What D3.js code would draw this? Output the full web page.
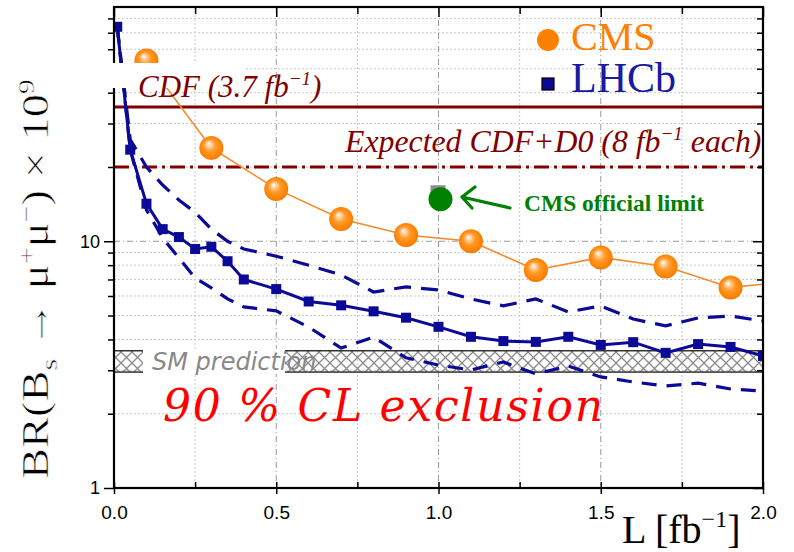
<!DOCTYPE html>
<meta charset="utf-8">
<style>
  body { margin: 0; background: #fff; }
</style>
<script src="https://d3js.org/d3.v7.min.js"></script>
<svg id="chart" width="794" height="552"></svg>
<script>
  // CMS projected 90% CL limits (x 1e9) vs luminosity
  var cmsLumi  = [0.1, 0.3, 0.5, 0.7, 0.9, 1.1, 1.3, 1.5, 1.7, 1.9, 2.1];
  var cmsLimit = [54, 23.9, 16.3, 12.3, 10.6, 10.0, 7.65, 8.6, 7.9, 6.5, 6.9];

  // CMS official point
  var cmsOffLumi = 1.0, cmsOffLimit = 14.8;

  // LHCb median and band
  var lhcbLumi   = [0.01, 0.05, 0.1, 0.15, 0.2, 0.25, 0.3, 0.35, 0.4, 0.5, 0.6, 0.7, 0.8, 0.9, 1.0, 1.1, 1.2, 1.3, 1.4, 1.5, 1.6, 1.7, 1.8, 1.9, 2.0];
  var lhcbMedian = [74, 23.5, 14.2, 11.2, 10.4, 9.3, 9.5, 8.3, 7.0, 6.4, 5.7, 5.5, 5.2, 4.9, 4.5, 4.1, 3.94, 3.91, 4.1, 3.8, 3.9, 3.53, 3.83, 3.73, 3.43];
  var lhcbUpper  = [74, 25.8, 20.0, 16.9, 14.7, 13.1, 11.2, 10.0, 9.3, 8.7, 8.0, 7.3, 6.23, 6.53, 6.35, 5.84, 5.47, 5.84, 5.17, 5.47, 4.84, 4.54, 4.89, 4.98, 4.75];
  var lhcbLower  = [74, 23.5, 13.4, 10.3, 8.56, 7.1, 6.47, 5.84, 5.42, 5.22, 4.49, 3.69, 4.09, 3.37, 3.15, 3.01, 3.24, 2.9, 3.12, 2.82, 2.69, 2.59, 2.66, 2.52, 2.47];

  // Tevatron limits and SM band
  var cdfObserved = 35;
  var cdfD0Expected = 20;
  var smBand = [2.95, 3.6];

  // ticks
  var xMajor = [0, 0.5, 1, 1.5, 2];
  var xMinor = [0.25, 0.75, 1.25, 1.75];
  var yMajor = [1, 10];
  var yMinor = [2, 3, 4, 5, 6, 7, 8, 9, 20, 30, 40, 50, 60, 70, 80];

  var svg = d3.select("#chart");
  var x = d3.scaleLinear().domain([0, 2]).range([114, 763]);
  var y = d3.scaleLog().domain([1, 89]).range([488, 7]);

  var defs = svg.append("defs");
  defs.append("clipPath").attr("id", "plot")
    .append("rect").attr("x", 114).attr("y", 7).attr("width", 649).attr("height", 481);

  var hatch = defs.append("pattern").attr("id", "hatch")
    .attr("patternUnits", "userSpaceOnUse").attr("width", 11).attr("height", 11);
  hatch.append("path").attr("d", "M0,0L11,11M11,0L0,11")
    .attr("stroke", "#8a8a8a").attr("stroke-width", 1.3);

  var ball = defs.append("radialGradient").attr("id", "ball")
    .attr("cx", 0.5).attr("cy", 0.5).attr("fx", 0.38).attr("fy", 0.32).attr("r", 0.55);
  [[0, "#ffffff"], [0.18, "#ffd3a3"], [0.45, "#ff9a2a"], [0.85, "#ff8000"], [1, "#e46e00"]]
    .forEach(function(s) { ball.append("stop").attr("offset", s[0]).attr("stop-color", s[1]); });

  // grid
  var grid = svg.append("g");
  grid.selectAll(".gxm").data(xMinor).enter().append("line")
    .attr("x1", d => x(d)).attr("x2", d => x(d)).attr("y1", 7).attr("y2", 488)
    .attr("stroke", "#c8c8c8").attr("stroke-dasharray", "2,2");
  grid.selectAll(".gym").data(yMinor).enter().append("line")
    .attr("x1", 114).attr("x2", 763).attr("y1", d => y(d)).attr("y2", d => y(d))
    .attr("stroke", "#c8c8c8").attr("stroke-dasharray", "2,2");
  grid.selectAll(".gxM").data([0.5, 1, 1.5]).enter().append("line")
    .attr("x1", d => x(d)).attr("x2", d => x(d)).attr("y1", 7).attr("y2", 488)
    .attr("stroke", "#9a9a9a").attr("stroke-dasharray", "6,3,1,3");
  grid.selectAll(".gyM").data([10]).enter().append("line")
    .attr("x1", 114).attr("x2", 763).attr("y1", d => y(d)).attr("y2", d => y(d))
    .attr("stroke", "#9a9a9a").attr("stroke-dasharray", "6,3,1,3");

  // SM band
  var band = svg.append("g");
  band.append("rect").attr("x", x(0)).attr("width", x(2) - x(0))
    .attr("y", y(smBand[1])).attr("height", y(smBand[0]) - y(smBand[1]))
    .attr("fill", "url(#hatch)").attr("stroke", "#333").attr("stroke-width", 1.5);
  // gap behind label
  band.append("rect").attr("x", 143).attr("width", 142)
    .attr("y", y(smBand[1]) - 2).attr("height", y(smBand[0]) - y(smBand[1]) + 4)
    .attr("fill", "#fff");

  var plot = svg.append("g").attr("clip-path", "url(#plot)");

  // Tevatron lines
  plot.append("line").attr("x1", 112).attr("x2", 763)
    .attr("y1", y(cdfObserved)).attr("y2", y(cdfObserved))
    .attr("stroke", "#800000").attr("stroke-width", 3);
  plot.append("line").attr("x1", 114).attr("x2", 763)
    .attr("y1", y(cdfD0Expected)).attr("y2", y(cdfD0Expected))
    .attr("stroke", "#800000").attr("stroke-width", 3).attr("stroke-dasharray", "15,5,3,5");

  var line = d3.line().x(d => x(d[0])).y(d => y(d[1]));
  var blue = "#0a0a96";

  plot.append("path").datum(d3.zip(lhcbLumi, lhcbUpper)).attr("d", line)
    .attr("fill", "none").attr("stroke", blue).attr("stroke-width", 3.2).attr("stroke-dasharray", "17,10");
  plot.append("path").datum(d3.zip(lhcbLumi, lhcbLower)).attr("d", line)
    .attr("fill", "none").attr("stroke", blue).attr("stroke-width", 3.2).attr("stroke-dasharray", "15,10");
  plot.append("path").datum(d3.zip(lhcbLumi, lhcbMedian)).attr("d", line)
    .attr("fill", "none").attr("stroke", blue).attr("stroke-width", 3);
  plot.selectAll(".sq").data(d3.zip(lhcbLumi, lhcbMedian)).enter().append("rect")
    .attr("x", d => x(d[0]) - 5).attr("y", d => y(d[1]) - 5)
    .attr("width", 10).attr("height", 10).attr("fill", blue);

  // CMS
  plot.append("path").datum(d3.zip(cmsLumi, cmsLimit)).attr("d", line)
    .attr("fill", "none").attr("stroke", "#f58a2a").attr("stroke-width", 1.6);
  plot.selectAll(".cms").data(d3.zip(cmsLumi, cmsLimit)).enter().append("circle")
    .attr("cx", d => x(d[0])).attr("cy", d => y(d[1])).attr("r", 12)
    .attr("fill", "url(#ball)");

  // CMS official
  plot.append("rect").attr("x", x(cmsOffLumi) - 8).attr("y", y(cmsOffLimit) - 14)
    .attr("width", 15).attr("height", 15).attr("fill", "#8c8c8c");
  plot.append("circle").attr("cx", x(cmsOffLumi) + 2).attr("cy", y(cmsOffLimit))
    .attr("r", 12).attr("fill", "#008000");

  // axes
  function styleAxis(g, size) {
    g.select(".domain").remove();
    g.selectAll("line").attr("stroke", "#000").attr("stroke-width", 1.5);
    g.attr("font-family", "'Liberation Sans', Arial, sans-serif").attr("font-size", size || 18);
    g.selectAll("text").attr("fill", "#000");
  }
  svg.append("g").attr("transform", "translate(114,0)")
    .call(d3.axisLeft(y).tickValues(yMajor).tickSize(10).tickPadding(4).tickFormat(d3.format("d")))
    .call(styleAxis);
  svg.append("g").attr("transform", "translate(114,0)")
    .call(d3.axisLeft(y).tickValues(yMinor).tickSize(6).tickFormat(""))
    .call(styleAxis);
  svg.append("g").attr("transform", "translate(763,0)")
    .call(d3.axisRight(y).tickValues(yMajor).tickSize(-10).tickFormat(""))
    .call(styleAxis);
  svg.append("g").attr("transform", "translate(763,0)")
    .call(d3.axisRight(y).tickValues(yMinor).tickSize(-6).tickFormat(""))
    .call(styleAxis);
  svg.append("g").attr("transform", "translate(0,488)")
    .call(d3.axisBottom(x).tickValues(xMajor).tickSize(6).tickPadding(12).tickFormat(d3.format(".1f")))
    .call(g => styleAxis(g, 19));
  svg.append("g").attr("transform", "translate(0,488)")
    .call(d3.axisBottom(x).tickValues(xMajor.concat(xMinor)).tickSize(-6).tickFormat(""))
    .call(styleAxis);
  svg.append("g").attr("transform", "translate(0,7)")
    .call(d3.axisTop(x).tickValues(xMajor).tickSize(-10).tickFormat(""))
    .call(styleAxis);
  svg.append("g").attr("transform", "translate(0,7)")
    .call(d3.axisTop(x).tickValues(xMinor).tickSize(-7).tickFormat(""))
    .call(styleAxis);

  svg.append("rect").attr("x", 114).attr("y", 7).attr("width", 649).attr("height", 481)
    .attr("fill", "none").attr("stroke", "#000").attr("stroke-width", 2.2);

  // white patch behind CDF label
  svg.append("rect").attr("x", 100).attr("y", 63).attr("width", 145).attr("height", 25).attr("fill", "#fff");

  var serif = "'Liberation Serif', 'Times New Roman', serif";

  // CDF label
  var t1 = svg.append("text").attr("x", 138).attr("y", 97)
    .attr("font-family", serif).attr("font-style", "italic").attr("font-size", 31).attr("fill", "#800000");
  t1.append("tspan").text("CDF (3.7 fb");
  t1.append("tspan").attr("dy", -12).attr("font-size", 19).text("\u22121");
  t1.append("tspan").attr("dy", 12).text(")");

  var t2 = svg.append("text").attr("x", 345).attr("y", 152)
    .attr("font-family", serif).attr("font-style", "italic").attr("font-size", 31.8).attr("fill", "#800000");
  t2.append("tspan").text("Expected CDF+D0 (8 fb");
  t2.append("tspan").attr("dy", -12).attr("font-size", 19).text("\u22121");
  t2.append("tspan").attr("dy", 12).text(" each)");

  // legend
  svg.append("circle").attr("cx", 548).attr("cy", 40).attr("r", 11).attr("fill", "#ff8000");
  svg.append("text").attr("x", 571).attr("y", 50).attr("font-family", serif)
    .attr("font-size", 40).attr("fill", "#ff8000").text("CMS");
  svg.append("rect").attr("x", 542).attr("y", 78).attr("width", 12).attr("height", 12)
    .attr("fill", "#0a0a96").attr("stroke", "#000").attr("stroke-width", 1.2);
  svg.append("text").attr("x", 571).attr("y", 92).attr("font-family", serif)
    .attr("font-size", 42).attr("fill", "#1a1aa0").text("LHCb");

  // arrow to official limit
  var tip = [462, 197], tail = [510, 208];
  svg.append("path")
    .attr("d", "M" + tail + "L" + tip + "M475,187L" + tip + "L472,208")
    .attr("fill", "none").attr("stroke", "#008000").attr("stroke-width", 3.2)
    .attr("stroke-linecap", "round").attr("stroke-linejoin", "round");
  svg.append("text").attr("x", 524).attr("y", 211).attr("font-family", serif)
    .attr("font-weight", "bold").attr("font-size", 23.5).attr("fill", "#008000").text("CMS official limit");

  // SM label
  svg.append("text").attr("x", 152).attr("y", 370)
    .attr("font-family", "'DejaVu Sans', sans-serif").attr("font-style", "italic")
    .attr("font-size", 24).attr("fill", "#888").text("SM prediction");

  // exclusion label
  svg.append("text").attr("x", 163).attr("y", 421)
    .attr("font-family", "'DejaVu Serif', serif").attr("font-style", "italic")
    .attr("font-size", 44).attr("fill", "#ff0000")
    .attr("textLength", 440).attr("lengthAdjust", "spacing")
    .text("90 % CL exclusion");

  // x label
  var xl = svg.append("text").attr("x", 622).attr("y", 543)
    .attr("font-family", serif).attr("font-size", 40).attr("fill", "#000");
  xl.append("tspan").text("L [fb");
  xl.append("tspan").attr("dy", -16).attr("font-size", 24).text("\u22121");
  xl.append("tspan").attr("dy", 16).text("]");

  // y label
  var yl = svg.append("text").attr("text-anchor", "middle")
    .attr("font-family", serif).attr("font-size", 37).attr("fill", "#000")
    .attr("stroke", "#fff").attr("stroke-width", 0.6);
  yl.append("tspan").text("BR(B");
  yl.append("tspan").attr("dy", 9).attr("font-size", 24).text("s");
  yl.append("tspan").attr("dy", -9).text(" \u2192 \u03bc");
  yl.append("tspan").attr("dy", -14).attr("font-size", 24).text("+");
  yl.append("tspan").attr("dy", 14).text("\u03bc");
  yl.append("tspan").attr("dy", -14).attr("font-size", 24).text("\u2212");
  yl.append("tspan").attr("dy", 14).text(") \u00d7 10");
  yl.append("tspan").attr("dy", -14).attr("font-size", 24).text("9");
  var len = yl.node().getComputedTextLength();
  yl.attr("transform", "translate(48,279) rotate(-90) scale(" + (400 / len) + ",1)");
</script>
